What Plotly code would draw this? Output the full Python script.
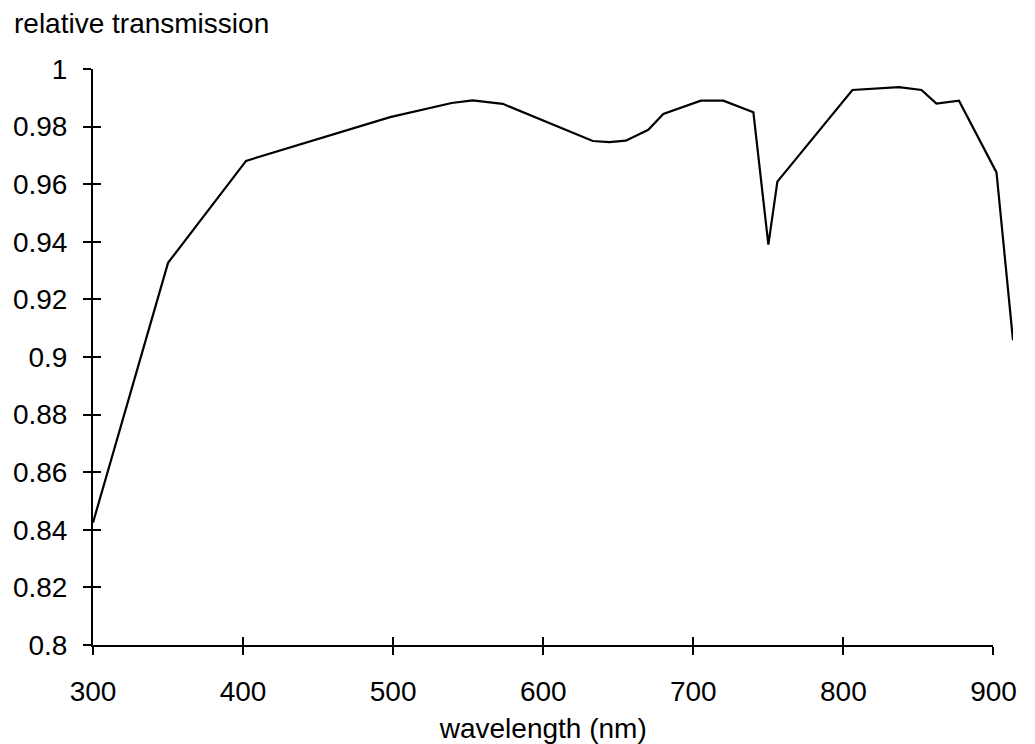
import plotly.graph_objects as go

# ---- data ----
wavelength_nm = [300, 350, 402, 498, 539, 553, 573, 633, 644, 655, 670, 680,
                 705, 720, 740, 750, 756, 806, 837, 852, 862, 877, 902, 913]
relative_transmission = [0.8425, 0.9327, 0.9681, 0.9833, 0.9882, 0.9891, 0.9879,
                         0.9750, 0.9746, 0.9751, 0.9789, 0.9844, 0.9890, 0.9890,
                         0.9850, 0.9390, 0.9609, 0.9927, 0.9937, 0.9927, 0.9880,
                         0.9890, 0.9641, 0.9058]

x_tick_values = [300, 400, 500, 600, 700, 800, 900]
x_tick_labels = ["300", "400", "500", "600", "700", "800", "900"]
y_tick_values = [0.8, 0.82, 0.84, 0.86, 0.88, 0.9, 0.92, 0.94, 0.96, 0.98, 1.0]
y_tick_labels = ["0.8", "0.82", "0.84", "0.86", "0.88", "0.9", "0.92", "0.94",
                 "0.96", "0.98", "1"]

x_title = "wavelength (nm)"
y_title = "relative transmission"

# ---- styling ----
FONT = "Liberation Sans, Arial, Helvetica, sans-serif"
FS = 28
data_x_range = [300, 913]
axis_x_range = [300, 900]
axis_frac = (axis_x_range[1] - axis_x_range[0]) / (data_x_range[1] - data_x_range[0])

fig = go.Figure()
fig.add_trace(go.Scatter(
    x=wavelength_nm, y=relative_transmission, mode="lines",
    line=dict(color="black", width=2.2), xaxis="x", yaxis="y",
    showlegend=False, hoverinfo="x+y",
))
# invisible helper traces so that the decorative axes get drawn
for xa, ya in [("x2", "y"), ("x3", "y"), ("x", "y2")]:
    fig.add_trace(go.Scatter(
        x=wavelength_nm, y=relative_transmission, mode="none",
        xaxis=xa, yaxis=ya, showlegend=False, hoverinfo="skip",
    ))

common_tick = dict(tickcolor="black", tickwidth=2, ticklen=8, automargin=False,
                   showgrid=False, zeroline=False)

fig.update_layout(
    width=1035, height=744,
    margin=dict(l=93, r=21.5, t=69, b=99),
    paper_bgcolor="white", plot_bgcolor="rgba(0,0,0,0)",
    font=dict(family=FONT, size=FS, color="black"),
    showlegend=False,
    xaxis=dict(domain=[0, 1], range=data_x_range, visible=False, anchor="y",
               automargin=False),
    xaxis2=dict(domain=[0, axis_frac], range=axis_x_range, anchor="y",
                showline=True, linecolor="black", linewidth=2,
                ticks="outside", tickvals=x_tick_values, ticktext=x_tick_labels,
                ticklabelstandoff=12,
                title=dict(text=x_title, standoff=28, font=dict(size=FS)),
                **common_tick),
    xaxis3=dict(overlaying="x2", range=axis_x_range, anchor="y",
                ticks="inside", tickvals=x_tick_values, showticklabels=False,
                showline=False, **common_tick),
    yaxis=dict(domain=[0, 1], range=[0.8, 1.0], anchor="x",
               showline=True, linecolor="black", linewidth=2,
               ticks="outside", tickvals=y_tick_values, ticktext=y_tick_labels,
               ticklabelstandoff=10, **common_tick),
    yaxis2=dict(overlaying="y", range=[0.8, 1.0], anchor="x", side="left",
                ticks="inside", tickvals=y_tick_values, showticklabels=False,
                showline=False, **common_tick),
    annotations=[dict(text=y_title, xref="paper", yref="paper", x=0, y=1,
                      xanchor="left", yanchor="bottom", showarrow=False,
                      xshift=-81, yshift=28, font=dict(size=FS))],
)

fig.write_html("out.html", config={"displayModeBar": False},
               post_script="document.body.style.margin='0';")
